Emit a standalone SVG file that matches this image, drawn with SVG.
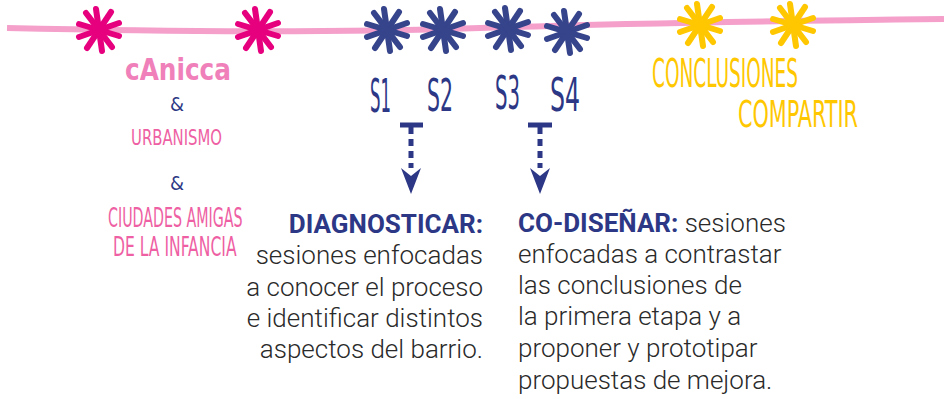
<svg xmlns="http://www.w3.org/2000/svg" width="944" height="399" viewBox="0 0 944 399">
<style>
.hand{font-family:"DejaVu Sans Condensed","DejaVu Sans",sans-serif;}
.pink{fill:#ee5fa3;}
.navy{fill:#2c3785;}
.yel{fill:#ffc700;}
.body{font-family:Roboto,"Liberation Sans",sans-serif;font-size:26px;font-weight:300;fill:#2a2a2a;}
.bold{font-weight:700;fill:#2c3785;}
.conn{stroke:#2c3785;fill:none;}
</style>
<defs>
<g id="star" stroke="currentColor" stroke-width="6" stroke-linecap="round">
<line x1="-3" y1="-21" x2="3" y2="21"/>
<line x1="12" y1="-18" x2="-12" y2="18"/>
<line x1="20" y1="-7" x2="-20" y2="7"/>
<line x1="20" y1="6" x2="-20" y2="-6"/>
<line x1="13" y1="17" x2="-13" y2="-17"/>
</g>
<polygon id="head" points="-10,-12 0,-4 10,-12 0,14" fill="#2c3785"/>
</defs>
<g id="timeline">
<path d="M7,28 C180,32 330,33 480,28 C600,24 760,21 944,19" stroke="#f4a0cb" stroke-width="6" fill="none"/>
</g>
<g id="stars">
<use href="#star" x="99" y="30" color="#e6007e"/>
<use href="#star" x="258" y="30" color="#e6007e"/>
<use href="#star" x="387" y="30" color="#36448c"/>
<use href="#star" x="443" y="30" color="#36448c"/>
<use href="#star" x="508" y="29" color="#36448c"/>
<use href="#star" x="567" y="32" color="#36448c"/>
<use href="#star" x="700" y="25" color="#ffc700"/>
<use href="#star" x="793" y="25" color="#ffc700"/>
</g>
<g id="canicca">
<text x="125" y="80" font-family="DejaVu Sans Condensed,DejaVu Sans,sans-serif" font-weight="bold" font-size="31" fill="#f080b9" textLength="106" lengthAdjust="spacingAndGlyphs">cAnicca</text>
<text x="177" y="111" class="hand navy" font-size="20" text-anchor="middle">&amp;</text>
<text x="131" y="145" class="hand pink" font-size="22" textLength="91" lengthAdjust="spacingAndGlyphs">URBANISMO</text>
<text x="177" y="190" class="hand navy" font-size="20" text-anchor="middle">&amp;</text>
<text x="0" y="0" class="hand pink" font-size="27" transform="translate(108 227) scale(0.587 1)">CIUDADES AMIGAS</text>
<text x="0" y="0" class="hand pink" font-size="27" transform="translate(113 256) scale(0.642 1)">DE LA INFANCIA</text>
</g>
<g id="sessions">
<text x="370" y="112" class="hand navy" font-size="46" textLength="21" lengthAdjust="spacingAndGlyphs">S1</text>
<text x="427" y="111" class="hand navy" font-size="44" textLength="26" lengthAdjust="spacingAndGlyphs">S2</text>
<text x="495" y="109" class="hand navy" font-size="46" textLength="25" lengthAdjust="spacingAndGlyphs">S3</text>
<text x="550" y="111" class="hand navy" font-size="46" textLength="30" lengthAdjust="spacingAndGlyphs">S4</text>
</g>
<g id="conclusiones">
<text x="652" y="87" class="hand yel" font-size="39" textLength="146" lengthAdjust="spacingAndGlyphs">CONCLUSIONES</text>
<text x="738" y="127" class="hand yel" font-size="37" textLength="120" lengthAdjust="spacingAndGlyphs">COMPARTIR</text>
</g>
<g id="connectors">
<line x1="400" y1="125" x2="423" y2="125" class="conn" stroke-width="5"/>
<line x1="411" y1="127" x2="411" y2="168" class="conn" stroke-width="5" stroke-dasharray="7 5"/>
<use href="#head" x="411" y="180"/>
<line x1="528" y1="125" x2="552" y2="125" class="conn" stroke-width="5"/>
<line x1="540" y1="127" x2="540" y2="168" class="conn" stroke-width="5" stroke-dasharray="7 5"/>
<use href="#head" x="540" y="180"/>
</g>
<g id="diagnosticar">
<text x="483" y="233" class="body bold" font-weight="700" text-anchor="end">DIAGNOSTICAR:</text>
<text x="483" y="264" class="body" text-anchor="end">sesiones enfocadas</text>
<text x="483" y="296" class="body" text-anchor="end">a conocer el proceso</text>
<text x="483" y="327" class="body" text-anchor="end">e identificar distintos</text>
<text x="483" y="358" class="body" text-anchor="end">aspectos del barrio.</text>
</g>
<g id="codisenar">
<text x="518" y="232" class="body"><tspan class="bold" font-weight="700">CO-DISEÑAR:</tspan> sesiones</text>
<text x="518" y="263" class="body">enfocadas a contrastar</text>
<text x="518" y="294" class="body">las conclusiones de</text>
<text x="518" y="325" class="body">la primera etapa y a</text>
<text x="518" y="357" class="body">proponer y prototipar</text>
<text x="518" y="389" class="body">propuestas de mejora.</text>
</g>
</svg>
